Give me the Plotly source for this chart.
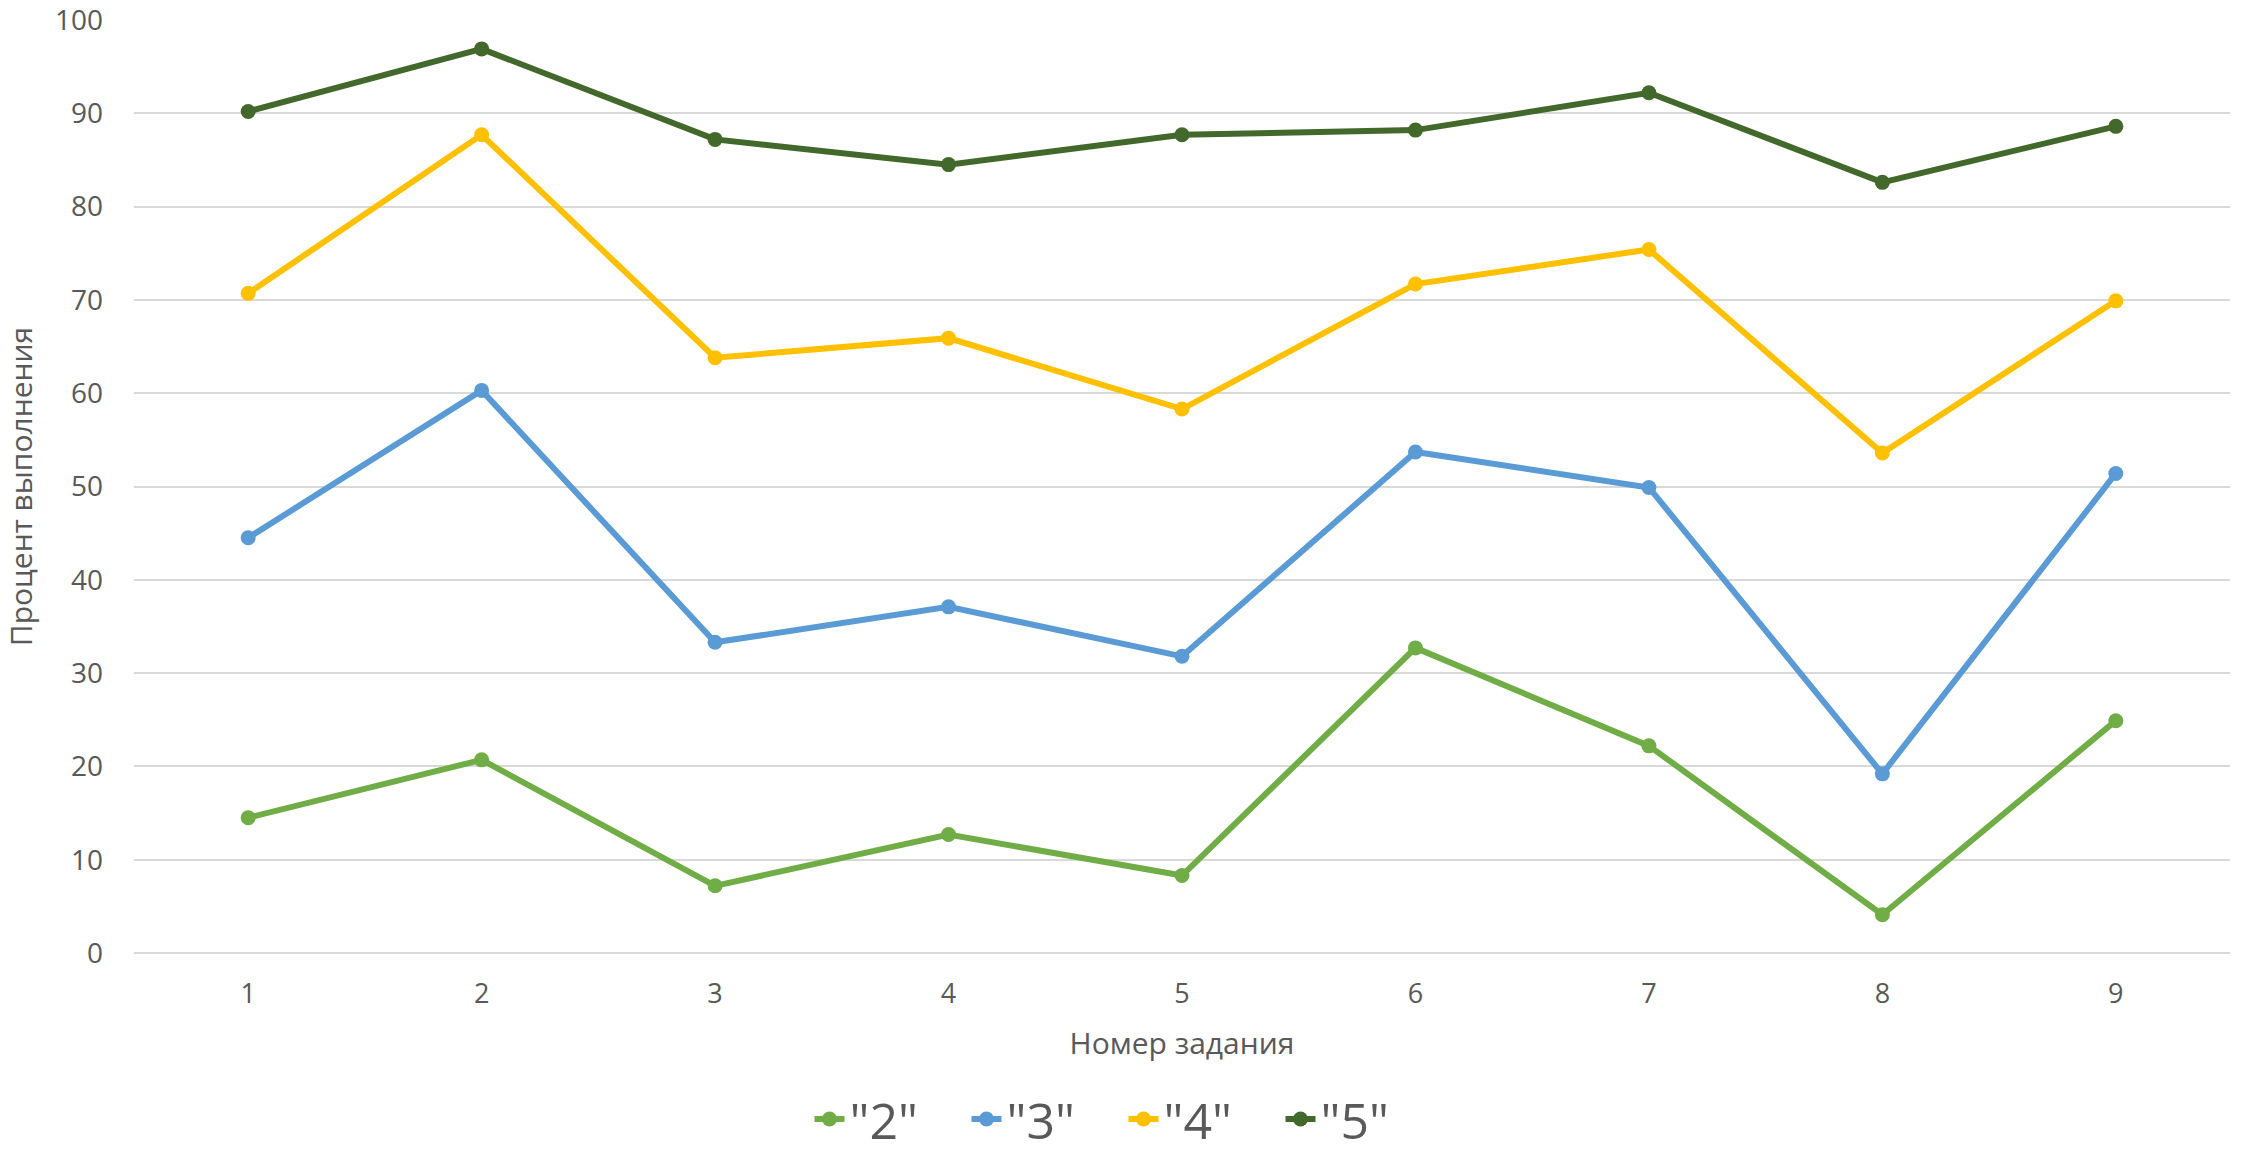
import plotly.graph_objects as go

tasks = [1, 2, 3, 4, 5, 6, 7, 8, 9]
s2 = [14.5, 20.7, 7.2, 12.7, 8.3, 32.7, 22.2, 4.1, 24.9]
s3 = [44.5, 60.3, 33.3, 37.1, 31.8, 53.7, 49.9, 19.2, 51.4]
s4 = [70.7, 87.7, 63.8, 65.9, 58.3, 71.7, 75.4, 53.6, 69.9]
s5 = [90.2, 96.9, 87.2, 84.5, 87.7, 88.2, 92.2, 82.6, 88.6]
names = ['"2"', '"3"', '"4"', '"5"']
colors = ["#70AD47", "#5B9BD5", "#FFC000", "#43682B"]

fig = go.Figure()
for name, vals, c in zip(names, [s2, s3, s4, s5], colors):
    fig.add_trace(go.Scatter(
        x=[str(t) for t in tasks], y=vals, name=name, mode="lines+markers",
        line=dict(color=c, width=6), marker=dict(color=c, size=15),
    ))

fig.update_layout(
    width=2247, height=1156,
    paper_bgcolor="white", plot_bgcolor="white",
    margin=dict(l=134, r=17, t=20, b=203, autoexpand=False),
    font=dict(family="Open Sans", color="#595959"),
    showlegend=True,
    legend=dict(orientation="h", x=0.5, xanchor="center", xref="container",
                y=0.032, yanchor="middle", yref="container",
                font=dict(size=50, family="Open Sans", color="#595959"),
                entrywidth=112, entrywidthmode="pixels", tracegroupgap=0),
)
fig.update_xaxes(
    type="category", showgrid=False, showline=False, zeroline=False,
    tickfont=dict(size=27, color="#595959"), ticks="", ticklabelstandoff=22,
    ticklabeloverflow="allow",
    title=dict(text="Номер задания", font=dict(size=30, color="#595959"), standoff=22),
)
fig.update_yaxes(
    range=[0, 100], dtick=10, showgrid=True, gridcolor="#D9D9D9", gridwidth=2,
    zeroline=True, zerolinecolor="#D9D9D9", zerolinewidth=2, showline=False,
    tickfont=dict(size=28, color="#595959"), ticks="", ticklabelstandoff=30,
    ticklabeloverflow="allow",
    title=dict(text="Процент выполнения", font=dict(size=30, color="#595959"), standoff=18),
)
fig.write_html("out.html", config={"displayModeBar": False},
               post_script="document.body.style.margin='0';")
